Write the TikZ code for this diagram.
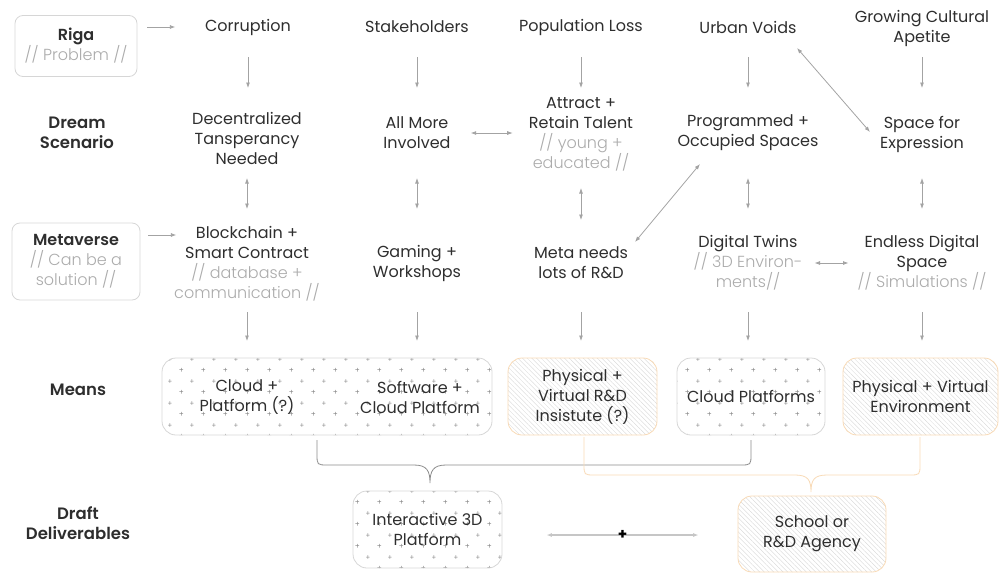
\documentclass[tikz,border=0pt]{standalone}
\usepackage{fontspec}
\setmainfont{Poppins}
\newfontfamily\thinfont{Poppins Light}
\newfontfamily\semifont{Poppins SemiBold}
\usepackage{tikz}
\usetikzlibrary{arrows.meta, patterns, patterns.meta, positioning}

\definecolor{ink}{HTML}{2E2E2E}
\definecolor{faint}{HTML}{ABABAB}
\definecolor{arr}{HTML}{A3A3A3}
\definecolor{edge}{HTML}{D6D6D6}
\definecolor{peach}{HTML}{F8DAB6}
\definecolor{bgray}{HTML}{8C8C8C}

\newcommand\subtxt[1]{{\thinfont\color{faint}#1}}

% staggered grid of small plus signs
\pgfdeclarepatternformonly{plusgrid}{\pgfqpoint{0pt}{0pt}}{\pgfqpoint{22pt}{22pt}}{\pgfqpoint{22pt}{22pt}}{%
  \pgfsetlinewidth{0.5pt}
  \pgfpathmoveto{\pgfqpoint{3.6pt}{5.5pt}}\pgfpathlineto{\pgfqpoint{7.4pt}{5.5pt}}
  \pgfpathmoveto{\pgfqpoint{5.5pt}{3.6pt}}\pgfpathlineto{\pgfqpoint{5.5pt}{7.4pt}}
  \pgfpathmoveto{\pgfqpoint{14.6pt}{16.5pt}}\pgfpathlineto{\pgfqpoint{18.4pt}{16.5pt}}
  \pgfpathmoveto{\pgfqpoint{16.5pt}{14.6pt}}\pgfpathlineto{\pgfqpoint{16.5pt}{18.4pt}}
  \pgfusepath{stroke}}

\begin{document}
\begin{tikzpicture}[x=1pt, y=-1pt,
  every node/.style={font=\fontsize{16}{20}\selectfont, text=ink, align=center, inner sep=0pt},
  head/.style={font=\semifont\fontsize{16.5}{20}\selectfont},
  arrow/.style={draw=arr, line width=0.8pt, -{Latex[length=5.5pt,width=4pt]}},
  both/.style={draw=arr, line width=0.8pt, {Latex[length=5.5pt,width=4pt]}-{Latex[length=5.5pt,width=4pt]}},
  frame/.style={draw=edge, line width=0.8pt, rounded corners=8pt},
  dots/.style={draw=edge, line width=0.8pt, rounded corners=14pt, pattern=plusgrid, pattern color=bgray},
  hatch/.style={draw=peach, line width=0.8pt, rounded corners=14pt,
    pattern={Lines[angle=-45, distance=3.3pt, line width=0.3pt]}, pattern color=gray!35},
  brace/.style={line width=0.8pt}]
  \useasboundingbox (0,0) rectangle (1002,573);

  % left column
  \node[frame, minimum width=122pt, minimum height=61pt] (riga) at (76,46) {{\semifont Riga}\\\subtxt{// Problem //}};
  \node[head] (dream) at (77,133) {Dream\\Scenario};
  \node[frame, minimum width=128pt, minimum height=77pt] (meta) at (76,261.5) {{\semifont Metaverse}\\\subtxt{// Can be a}\\\subtxt{solution //}};
  \node[head] (means) at (78,390) {Means};
  \node[head] (draft) at (78,523) {Draft\\Deliverables};

  % problems
  \node (corr) at (248,27) {Corruption};
  \node (stak) at (417,27) {Stakeholders};
  \node (pop) at (581,27) {Population Loss};
  \node (void) at (748,27) {Urban Voids};
  \node (grow) at (922,28) {Growing Cultural\\Apetite};

  % dream scenario
  \node (dec) at (247,138) {Decentralized\\Tansperancy\\Needed};
  \node (inv) at (417,133) {All More\\Involved};
  \node (tal) at (581,134) {Attract +\\Retain Talent\\\subtxt{// young +}\\\subtxt{educated //}};
  \node (prog) at (748,133) {Programmed +\\Occupied Spaces};
  \node (expr) at (922,134) {Space for\\Expression};

  % metaverse
  \node (block) at (247,264) {Blockchain +\\Smart Contract\\\subtxt{// database +}\\\subtxt{communication //}};
  \node (game) at (417,263) {Gaming +\\Workshops};
  \node (rnd) at (581,263) {Meta needs\\lots of R\&D};
  \node (twin) at (748,263) {Digital Twins\\\subtxt{// 3D Environ-}\\\subtxt{ments//}};
  \node (space) at (922,263) {Endless Digital\\Space\\\subtxt{// Simulations //}};

  % means
  \node[dots, minimum width=330pt, minimum height=77pt] (cloud) at (327,396.5) {};
  \node (cp) at (247,397) {Cloud +\\Platform (?)};
  \node (sw) at (420,397) {Software +\\Cloud Platform};
  \node[hatch, minimum width=149pt, minimum height=77pt] (inst) at (582.5,396.5) {Physical +\\Virtual R\&D\\Insistute (?)};
  \node[dots, minimum width=148pt, minimum height=77pt] (cplat) at (751,396.5) {Cloud Platforms};
  \node[hatch, minimum width=155pt, minimum height=77pt] (env) at (920.5,396.5) {Physical + Virtual\\Environment};

  % deliverables
  \node[dots, minimum width=149pt, minimum height=77pt] (plat) at (427.5,529.5) {Interactive 3D\\Platform};
  \node[hatch, minimum width=148pt, minimum height=76pt] (school) at (812,534) {School or\\R\&D Agency};

  % arrows
  \draw[arrow] (riga.east |- corr) ++(10,0) -- ++(28,0);
  \draw[arrow] (meta.east |- 0,235) ++(8,0) -- ++(28,0);
  \foreach \n in {corr, stak, pop, void, grow}
    \draw[arrow] (\n |- 0,57) -- (\n |- 0,88);
  \foreach \n in {dec, inv, prog, expr}
    \draw[both] (\n |- 0,178) -- (\n |- 0,209);
  \draw[both] (tal |- 0,188) -- (rnd |- 0,220);
  \foreach \n in {block, game, rnd, twin, space}
    \draw[arrow] (\n |- 0,312) -- (\n |- 0,341);
  \draw[both] (inv.east) ++(20,0) -- ++(42,0);
  \draw[both] (twin.east) ++(12,0) -- ++(34,0);
  \draw[both] (635,242) -- (700,164);
  \draw[both] (797,48) -- (870,132);
  \path (plat.east |- 0,535) ++(44,0) coordinate (l) (school.west |- 0,535) ++(-39,0) coordinate (r);
  \draw[both, draw=gray!45, line width=1.3pt] (l) -- (r) node[midway, font=\bfseries\fontsize{15}{15}\selectfont, text=black] {+};

  % braces
  \draw[brace, bgray] (317,440) -- (317,454) .. controls (317,465) .. (328,465) -- (414,465)
    .. controls (427,465) and (430,471) .. (430,483) .. controls (430,471) and (433,465) .. (446,465)
    -- (740,465) .. controls (751,465) .. (751,454) -- (751,440);
  \draw[brace, peach] (584,437) -- (584,464) .. controls (584,475) .. (595,475) -- (795,475)
    .. controls (808,475) and (811,480) .. (811,492) .. controls (811,480) and (814,475) .. (827,475)
    -- (909,475) .. controls (920,475) .. (920,464) -- (920,437);
\end{tikzpicture}
\end{document}
